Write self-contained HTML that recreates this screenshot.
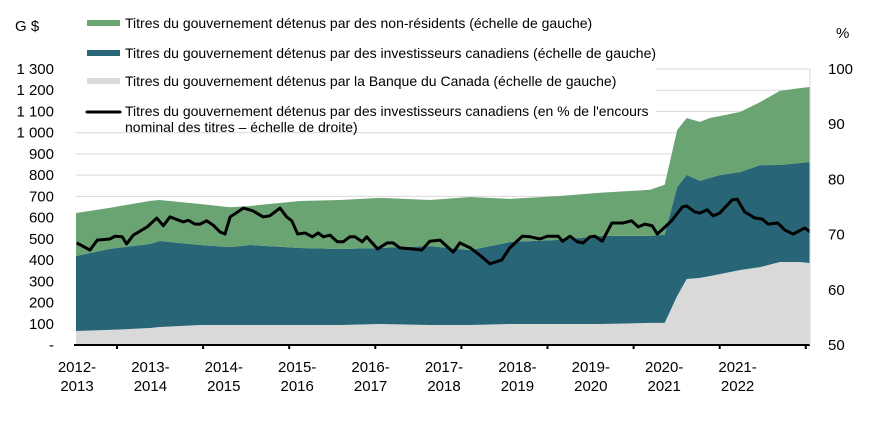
<!DOCTYPE html>
<html><head><meta charset="utf-8"><style>
body{margin:0;background:#fff;}
svg text{font-family:"Liberation Sans",sans-serif;font-size:15px;fill:#000;}
svg .lg text{font-size:14px;}
</style></head><body>
<svg id="c" width="869" height="418" xmlns="http://www.w3.org/2000/svg"></svg>
<script>
const areaTimes=[2012.25,2012.71,2013.26,2013.39,2013.94,2014.35,2014.62,2015.30,2015.85,2016.39,2017.07,2017.62,2018.16,2018.84,2019.39,2020.07,2020.27,2020.44,2020.57,2020.75,2020.89,2021.02,2021.30,2021.57,2021.84,2022.11,2022.25];
const bankOfCanada=[66,71,80,85,94,94,94,94,94,99,94,94,99,99,99,104,104,231,311,316,325,334,353,367,391,391,386];
const canadianInvestors=[353,382,396,405,377,367,377,363,358,358,372,353,386,396,415,410,415,513,490,457,462,466,462,480,457,466,476];
const nonResidents=[203,193,203,193,193,188,184,221,231,236,217,250,203,207,203,217,236,268,268,278,283,278,283,297,349,353,353];
const lineTimes=[2012.26,2012.44,2012.54,2012.71,2012.78,2012.88,2012.94,2013.03,2013.22,2013.35,2013.44,2013.53,2013.71,2013.78,2013.87,2013.94,2014.03,2014.12,2014.21,2014.28,2014.35,2014.53,2014.66,2014.80,2014.89,2015.03,2015.12,2015.19,2015.27,2015.37,2015.47,2015.55,2015.62,2015.71,2015.81,2015.89,2015.98,2016.05,2016.15,2016.21,2016.36,2016.49,2016.57,2016.66,2016.84,2016.96,2017.07,2017.21,2017.39,2017.48,2017.62,2017.75,2017.89,2018.05,2018.16,2018.33,2018.44,2018.57,2018.67,2018.82,2018.88,2018.98,2019.08,2019.16,2019.25,2019.32,2019.42,2019.55,2019.70,2019.82,2019.91,2020.00,2020.10,2020.17,2020.30,2020.37,2020.51,2020.57,2020.68,2020.75,2020.85,2020.93,2021.02,2021.19,2021.26,2021.36,2021.50,2021.60,2021.68,2021.81,2021.91,2022.02,2022.18,2022.25];
const canadianShare=[68.5,67.2,69.0,69.2,69.7,69.6,68.3,69.9,71.4,73.0,71.6,73.2,72.3,72.6,71.9,71.9,72.5,71.7,70.5,70.1,73.2,74.8,74.3,73.2,73.4,74.8,73.2,72.5,70.1,70.3,69.6,70.3,69.6,69.9,68.7,68.7,69.6,69.6,68.7,69.6,67.4,68.5,68.5,67.6,67.4,67.2,68.8,69.0,66.8,68.5,67.6,66.3,64.7,65.4,67.6,69.7,69.6,69.2,69.7,69.7,68.8,69.7,68.7,68.5,69.6,69.7,68.8,72.1,72.1,72.5,71.4,71.9,71.6,70.1,71.7,72.6,75.0,75.2,74.1,73.9,74.5,73.4,73.9,76.3,76.4,74.1,73.0,72.8,71.9,72.1,70.8,70.1,71.2,70.5];
const leftTicks=[0,100,200,300,400,500,600,700,800,900,1000,1100,1200,1300];
const leftTickLabels=["-","100","200","300","400","500","600","700","800","900","1 000","1 100","1 200","1 300"];
const rightTicks=[50,60,70,80,90,100];
const xLabels=["2012-|2013","2013-|2014","2014-|2015","2015-|2016","2016-|2017","2017-|2018","2018-|2019","2019-|2020","2020-|2021","2021-|2022"];

const NS="http://www.w3.org/2000/svg";
const svg=document.getElementById('c');
const X0=76,X1=810,Y0=345,Y1=69;
const xS=t=>X0+(t-2012.25)*73.4;
const yL=v=>Y0-v*(Y0-Y1)/1300;
const yR=p=>Y0-(p-50)*(Y0-Y1)/50;
function mk(tag,at,parent){const e=document.createElementNS(NS,tag);for(const k in at)e.setAttribute(k,at[k]);(parent||svg).appendChild(e);return e;}

leftTicks.forEach((v,i)=>{
  if(v>0){const g=mk('line',{x1:X0,x2:X1,y1:yL(v),y2:yL(v),stroke:'#d9d9d9','stroke-width':1});
  
  }
  const t=mk('text',{x:54,y:yL(v)+5,'text-anchor':'end'});t.textContent=leftTickLabels[i];
  
  
});
rightTicks.forEach(p=>{
  const t=mk('text',{x:828,y:yR(p)+5});t.textContent=p;
  
  
});
function area(lo,hi,color,name){
  let d='M'+areaTimes.map((t,i)=>xS(t)+','+yL(hi[i])).join('L');
  for(let i=areaTimes.length-1;i>=0;i--)d+='L'+xS(areaTimes[i])+','+yL(lo[i]);
  const p=mk('path',{d:d+'Z',fill:color});
  
  
}
const zero=areaTimes.map(()=>0);
const s1=bankOfCanada.slice();
const s2=s1.map((v,i)=>v+canadianInvestors[i]);
const s3=s2.map((v,i)=>v+nonResidents[i]);
area(zero,s1,'#d9d9d9','area-bank-of-canada');
area(s1,s2,'#276577','area-canadian-investors');
area(s2,s3,'#6aa473','area-non-residents');
const ln=mk('polyline',{points:lineTimes.map((t,i)=>xS(t)+','+yR(canadianShare[i])).join(' '),fill:'none',stroke:'#000','stroke-width':3,'stroke-linejoin':'round'});


const ax=mk('line',{x1:X0-2,x2:X1,y1:Y0,y2:Y0,stroke:'#000','stroke-width':2});


for(let k=0;k<9;k++){const x=117+k*86.1;const tk=mk('line',{x1:x,x2:x,y1:Y0,y2:Y0+4,stroke:'#000','stroke-width':2});

}
const ra=mk('line',{x1:X1,x2:X1,y1:Y1,y2:Y0,stroke:'#d9d9d9','stroke-width':1});


xLabels.forEach((l,k)=>{
  const [a,b]=l.split('|');const x=xS(2012.25+k)+1;
  const t=mk('text',{x:x,y:372,'text-anchor':'middle'});t.textContent=a;
  
  
  const t2=mk('text',{x:x,y:391,'text-anchor':'middle'});t2.textContent=b;
  
  
});
</script>
<svg width="869" height="418" style="position:absolute;left:0;top:0">
<rect x="76" y="0" width="580" height="132" fill="#fff"/>
<text x="15" y="31">G $</text>
<text x="836" y="38">%</text>
<g class="lg">
<rect x="87" y="20" width="33" height="6" fill="#6aa473"/>
<text x="125" y="28">Titres du gouvernement détenus par des non-résidents (échelle de gauche)</text>
<rect x="87" y="50" width="33" height="6" fill="#276577"/>
<text x="125" y="58">Titres du gouvernement détenus par des investisseurs canadiens (échelle de gauche)</text>
<rect x="87" y="78" width="33" height="6" fill="#d9d9d9"/>
<text x="125" y="86">Titres du gouvernement détenus par la Banque du Canada (échelle de gauche)</text>
<line x1="87" y1="112" x2="120" y2="112" stroke="#000" stroke-width="3" stroke-linecap="round"/>
<text x="125" y="116">Titres du gouvernement détenus par des investisseurs canadiens (en % de l'encours</text>
<text x="125" y="132">nominal des titres – échelle de droite)</text>
</g>
</svg>
</body></html>
